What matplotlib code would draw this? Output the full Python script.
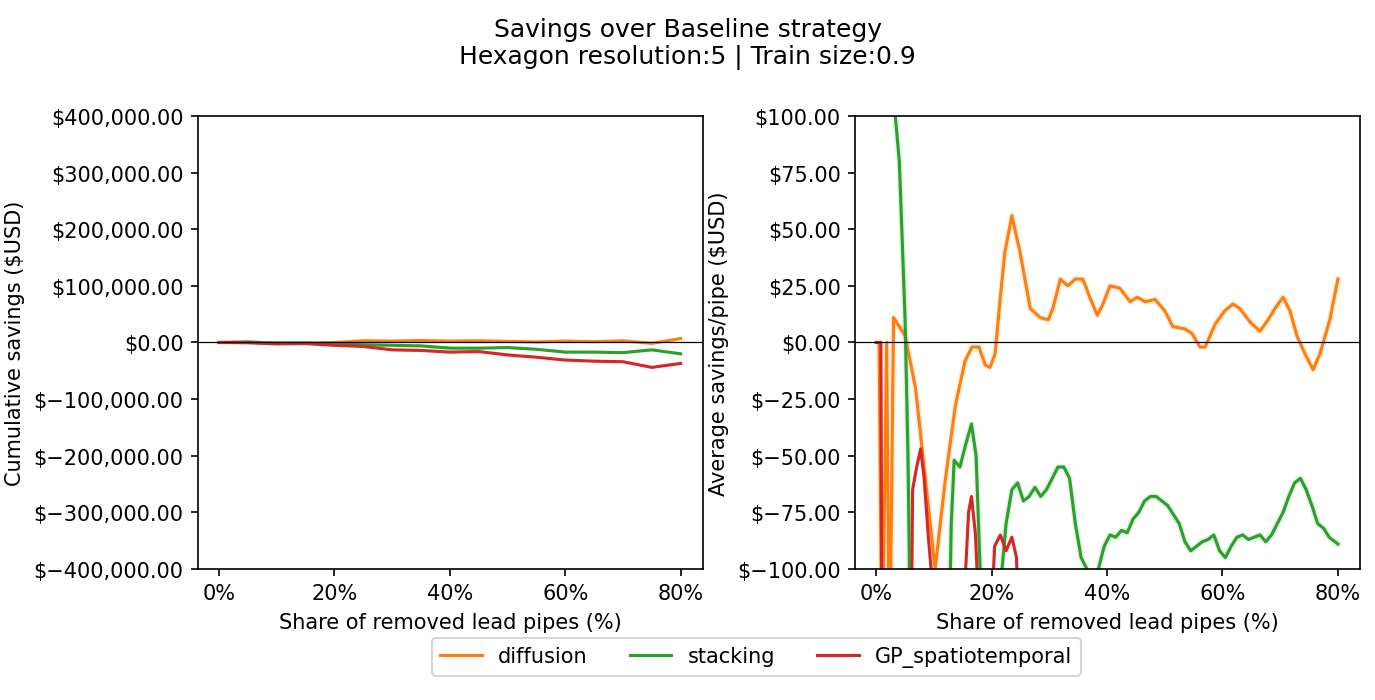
import matplotlib
matplotlib.use("Agg")
import matplotlib.pyplot as plt
from matplotlib.ticker import PercentFormatter, StrMethodFormatter

# cumulative savings (left panel)
share_cum = [0, 5, 10, 15, 20, 25, 30, 35, 40, 45, 50, 55, 60, 65, 70, 75, 80]
cum_diffusion = [0, 500, -1500, -1000, 0, 3000, 2500, 3500, 2500, 3000, 2000, 1000, 2500, 1500, 3000, -1500, 7000]
cum_stacking = [0, 1000, -1000, -1000, -3000, -4000, -5000, -6000, -10000, -10000, -9000, -12000, -17000, -17000, -18000, -13000, -20000]
cum_gp = [0, -500, -2500, -2000, -5000, -7000, -13000, -14000, -17000, -16000, -22000, -26000, -31000, -33000, -34000, -44000, -37000]

# average savings per pipe (right panel)
x_diff = [0.5, 1.0, 1.8, 2.3, 3.0, 5.0, 6.8, 8.5, 10.2, 12.0, 13.7, 15.4, 16.6, 17.8, 18.9, 19.7, 20.6, 21.5, 22.3, 23.5,
          24.9, 26.7, 28.4, 29.8, 30.6, 31.9, 33.2, 34.5, 35.8, 37.0, 38.3, 39.3, 40.5, 42.2, 44.0, 45.2, 46.6, 48.3,
          50.0, 51.4, 53.5, 54.7, 56.1, 57.0, 58.7, 60.4, 61.8, 63.0, 64.8, 66.5, 67.9, 69.1, 70.5, 71.7, 72.9, 74.3,
          75.7, 76.9, 78.6, 80.0]
avg_diffusion = [0, -150, 0, -150, 11, 3, -20, -60, -100, -60, -28, -8, -2, -2, -10, -11, -5, 20, 40, 56,
                 40, 15, 11, 10, 15, 28, 25, 28, 28, 20, 12, 17, 25, 24, 18, 20, 18, 19,
                 14, 7, 6, 4, -2, -2, 8, 14, 17, 15, 9, 5, 10, 15, 20, 14, 3, -5,
                 -12, -5, 10, 28]
x_stack = [0.5, 3.3, 4.0, 5.0, 5.5, 6.0, 12.5, 13.0, 13.5, 14.5, 15.5, 16.5, 17.3, 18.0, 18.5, 21.0, 21.8, 22.5, 23.5,
           24.5, 25.5, 26.5, 27.5, 28.5, 29.5, 30.5, 31.5, 32.5, 33.5, 34.5, 35.5, 36.5, 37.5, 38.5, 39.5, 40.5,
           41.5, 42.5, 43.5, 44.5, 45.5, 46.5, 47.5, 48.5, 49.5, 50.5, 51.5, 52.5, 53.5, 54.5, 55.5, 56.5, 57.5,
           58.5, 59.5, 60.5, 61.5, 62.5, 63.5, 64.5, 65.5, 66.5, 67.5, 68.5, 69.5, 70.5, 71.5, 72.5, 73.5, 74.5,
           75.5, 76.5, 77.5, 78.5, 79.5, 80.0]
avg_stacking = [120, 100, 80, 10, -50, -150, -150, -80, -52, -55, -45, -36, -50, -100, -150, -150, -100, -80, -65,
                -62, -70, -68, -64, -68, -65, -60, -55, -55, -60, -80, -95, -100, -105, -100, -90, -85,
                -86, -83, -84, -78, -75, -70, -68, -68, -70, -72, -76, -80, -88, -92, -90, -88, -87,
                -85, -92, -95, -90, -86, -85, -87, -86, -85, -88, -85, -80, -75, -68, -62, -60, -65,
                -72, -80, -82, -86, -88, -89]
x_gp = [0.0, 0.8, 1.0, 6.0, 6.3, 7.0, 7.7, 8.3, 9.0, 9.5, 10.3, 15.0, 15.5, 16.0, 16.5, 17.2, 17.8,
        19.5, 20.5, 21.5, 22.5, 23.5, 24.3, 25.0, 80.0]
avg_gp = [0, 0, -150, -150, -65, -55, -47, -60, -85, -100, -150, -150, -100, -75, -68, -85, -120,
          -150, -90, -85, -92, -86, -95, -150, -150]

c_diff, c_stack, c_gp = "#ff7f0e", "#2ca02c", "#d62728"

fig = plt.figure(figsize=(1375 / 150, 701 / 150), dpi=150)
ax1 = fig.add_axes([0.144, 0.187, 0.367, 0.646])
ax2 = fig.add_axes([0.622, 0.187, 0.367, 0.646])

ax1.plot(share_cum, cum_diffusion, color=c_diff, label="diffusion")
ax1.plot(share_cum, cum_stacking, color=c_stack, label="stacking")
ax1.plot(share_cum, cum_gp, color=c_gp, label="GP_spatiotemporal")
ax1.axhline(0, color="black", lw=0.6)
ax1.set_ylim(-400000, 400000)
ax1.set_ylabel("Cumulative savings ($USD)")
ax1.yaxis.set_major_formatter(StrMethodFormatter("${x:,.2f}"))

ax2.plot(x_diff, avg_diffusion, color=c_diff, alpha=0.12, lw=3)
ax2.plot(x_stack, avg_stacking, color=c_stack, alpha=0.12, lw=3)
ax2.plot(x_diff, avg_diffusion, color=c_diff)
ax2.plot(x_stack, avg_stacking, color=c_stack)
ax2.plot(x_gp, avg_gp, color=c_gp)
ax2.axhline(0, color="black", lw=0.6)
ax2.set_ylim(-100, 100)
ax2.set_ylabel("Average savings/pipe ($USD)")
ax2.yaxis.set_major_formatter(StrMethodFormatter("${x:,.2f}"))

for ax in (ax1, ax2):
    ax.set_xlim(-3.64, 83.81)
    ax.set_xticks([0, 20, 40, 60, 80])
    ax.xaxis.set_major_formatter(PercentFormatter(decimals=0))
    ax.set_xlabel("Share of removed lead pipes (%)")

fig.suptitle("Savings over Baseline strategy\nHexagon resolution:5 | Train size:0.9", y=0.975, fontsize=12)
fig.legend(*ax1.get_legend_handles_labels(), loc="lower center", ncol=3, bbox_to_anchor=(0.55, 0.02))
fig.savefig("out.png", dpi=150)
